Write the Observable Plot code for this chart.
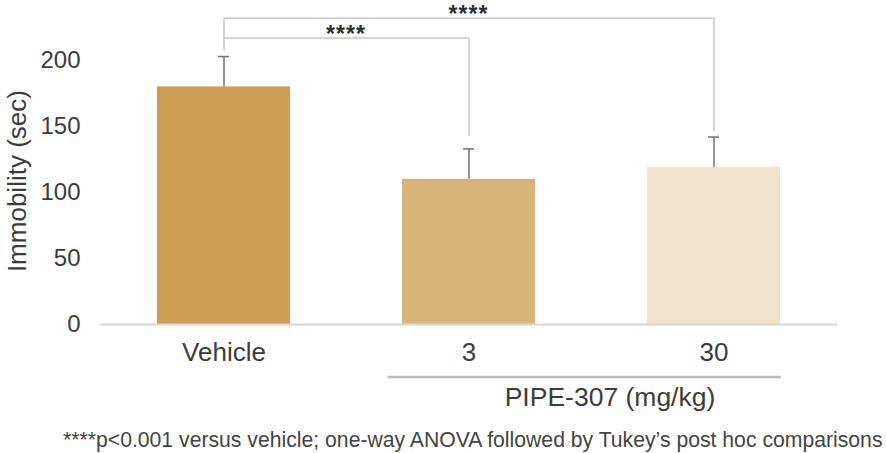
<!DOCTYPE html>
<html>
<head>
<meta charset="utf-8">
<script src="https://cdn.jsdelivr.net/npm/d3@7"></script>
<script src="https://cdn.jsdelivr.net/npm/@observablehq/plot@0.6"></script>
<style>
  html, body { margin: 0; padding: 0; background: #fff; }
  #wrap { position: relative; width: 886px; height: 453px; font-family: "Liberation Sans", Arial, sans-serif; }
  #foot { position: absolute; left: 63px; top: 428px; font-size: 21.2px; line-height: 24px; color: #444; white-space: nowrap; }
</style>
</head>
<body>
<div id="wrap">
  <div id="chart"></div>
  <div id="foot">****p&lt;0.001 versus vehicle; one-way ANOVA followed by Tukey’s post hoc comparisons</div>
</div>
<script>
// ---- data ----
const groups = ["Vehicle", "3", "30"];
const means = [180, 110, 119];
const sds = [23, 23, 23];
const barColors = ["#cc9d52", "#d8b479", "#f0e4cd"];
const yTicks = [0, 50, 100, 150, 200];

// significance brackets
const bracketFrom = ["Vehicle", "Vehicle"];
const bracketTo = ["3", "30"];
const bracketLevel = [217, 232];
const bracketLeftEnd = [208, 217];
const bracketRightEnd = [143, 147];
const bracketLabel = ["****", "****"];

const yTitle = "Immobility (sec)";
const groupTitle = "PIPE-307 (mg/kg)";

// ---- tables ----
const data = groups.map((g, i) => ({group: g, mean: means[i], sd: sds[i], top: means[i] + sds[i]}));
const bracketPts = [];
const bracketTxt = [];
bracketFrom.forEach((f, i) => {
  bracketPts.push({k: i, x: f, y: bracketLeftEnd[i]});
  bracketPts.push({k: i, x: f, y: bracketLevel[i]});
  bracketPts.push({k: i, x: bracketTo[i], y: bracketLevel[i]});
  bracketPts.push({k: i, x: bracketTo[i], y: bracketRightEnd[i]});
  bracketTxt.push({from: f, to: bracketTo[i], y: bracketLevel[i], label: bracketLabel[i]});
});

const W = 886, H = 412;
const plot = Plot.plot({
  width: W,
  height: H,
  marginLeft: 100,
  marginRight: 49,
  marginTop: 7.2,
  marginBottom: 88,
  style: {fontFamily: "'Liberation Sans', Arial, sans-serif", color: "#3c3c3c", background: "#fff"},
  x: {domain: groups, padding: 0, label: null},
  y: {domain: [0, 240], label: null},
  color: {domain: groups, range: barColors},
  marks: [
    Plot.barY(data, {x: "group", y: "mean", fill: "group", insetLeft: 56, insetRight: 56}),
    Plot.ruleX(data, {x: "group", y1: "mean", y2: "top", stroke: "#707070", strokeWidth: 1.5}),
    Plot.tickY(data, {x: "group", y: "top", stroke: "#707070", strokeWidth: 1.5, insetLeft: 117, insetRight: 117}),
    Plot.ruleY([0], {stroke: "#d6d6d6", strokeWidth: 2}),
    Plot.line(bracketPts, {x: "x", y: "y", z: "k", stroke: "#c8c8c8", strokeWidth: 1.5}),
    Plot.axisY({ticks: yTicks, tickSize: 0, tickPadding: 20, fontSize: 24, label: null}),
    Plot.axisX({tickSize: 0, tickPadding: 18, fontSize: 26, label: null}),
    Plot.text([yTitle], {text: d => d, frameAnchor: "left", textAnchor: "middle", rotate: -90, dx: -83, dy: 15, fontSize: 26, fill: "#3c3c3c"})
  ]
});
document.getElementById("chart").appendChild(plot);

// annotations positioned from the plot's own scales
const sx = plot.scale("x"), sy = plot.scale("y");
const bw = sx.bandwidth;
const cx = g => sx.apply(g) + bw / 2;
const svg = d3.select(plot);
const ann = svg.append("g").attr("font-family", "'Liberation Sans', Arial, sans-serif");
bracketTxt.forEach(b => {
  ann.append("text")
    .attr("x", (cx(b.from) + cx(b.to)) / 2)
    .attr("y", sy.apply(b.y) + 4)
    .attr("text-anchor", "middle")
    .attr("font-size", 23)
    .attr("font-weight", "bold")
    .attr("letter-spacing", 1)
    .attr("fill", "#2e2e2e")
    .text(b.label);
});
const y0 = sy.apply(0);
ann.append("line")
  .attr("x1", sx.apply("3") + bw * 0.17)
  .attr("x2", sx.apply("30") + bw * 0.775)
  .attr("y1", y0 + 53).attr("y2", y0 + 53)
  .attr("stroke", "#bdbdbd").attr("stroke-width", 2.5);
ann.append("text")
  .attr("x", (sx.apply("3") + sx.apply("30") + bw) / 2 + 19)
  .attr("y", y0 + 73)
  .attr("dy", "0.35em")
  .attr("text-anchor", "middle")
  .attr("font-size", 26.5)
  .attr("fill", "#3c3c3c")
  .text(groupTitle);
</script>
</body>
</html>
